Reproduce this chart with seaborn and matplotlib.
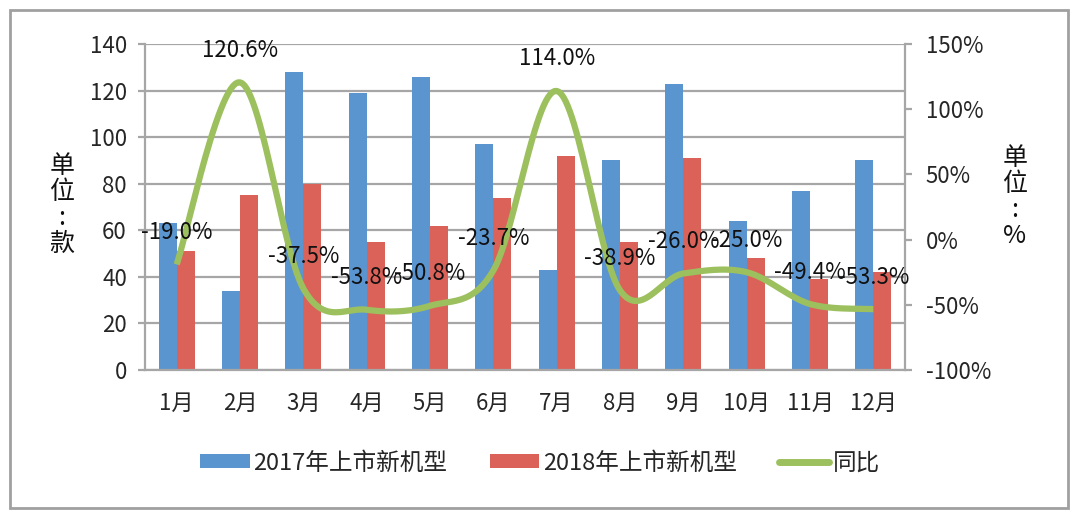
import numpy as np
import pandas as pd
import matplotlib
matplotlib.use("Agg")
import matplotlib.pyplot as plt
import seaborn as sns
from matplotlib.patches import Patch, Rectangle
from matplotlib.lines import Line2D

months = ["1月", "2月", "3月", "4月", "5月", "6月", "7月", "8月", "9月", "10月", "11月", "12月"]
models_2017 = [63, 34, 128, 119, 126, 97, 43, 90, 123, 64, 77, 90]
models_2018 = [51, 75, 80, 55, 62, 74, 92, 55, 91, 48, 39, 42]
yoy = [-19.0, 120.6, -37.5, -53.8, -50.8, -23.7, 114.0, -38.9, -26.0, -25.0, -49.4, -53.3]
yoy_labels = ["-19.0%", "120.6%", "-37.5%", "-53.8%", "-50.8%", "-23.7%",
              "114.0%", "-38.9%", "-26.0%", "-25.0%", "-49.4%", "-53.3%"]
series_names = ["2017年上市新机型", "2018年上市新机型", "同比"]

BLUE = "#5B95D0"
RED = "#DB6259"
GREEN = "#9DC05E"
GRID = "#A6A6A6"

sns.set_style("white")
plt.rcParams["font.family"] = ["Noto Sans CJK SC", "DejaVu Sans"]

df = pd.DataFrame({
    "month": months * 2,
    "count": models_2017 + models_2018,
    "series": [series_names[0]] * 12 + [series_names[1]] * 12,
})

fig = plt.figure(figsize=(10.8, 5.16), dpi=100)
ax = fig.add_axes([145 / 1080, 1 - 370 / 516, (905 - 145) / 1080, (370 - 44) / 516])

sns.barplot(data=df, x="month", y="count", hue="series", order=months,
            hue_order=series_names[:2], palette=[BLUE, RED], width=0.57,
            saturation=1, ax=ax, legend=False, linewidth=0)

ax.set_ylim(0, 140)
ax.set_xlim(-0.5, 11.5)
ax.set_yticks(range(0, 141, 20))
ax.set_xlabel("")
ax.set_ylabel("")
ax.yaxis.grid(True, color=GRID, linewidth=1.6)
ax.set_axisbelow(True)
for s in ["top", "right"]:
    ax.spines[s].set_visible(False)
for s in ["left", "bottom"]:
    ax.spines[s].set_color(GRID)
    ax.spines[s].set_linewidth(1.6)
ax.tick_params(axis="y", length=5, width=1.6, color=GRID, labelsize=16, pad=8)
ax.set_xticks(np.arange(-0.5, 12, 1), minor=True)
ax.tick_params(axis="x", which="major", length=0, labelsize=16, pad=16)
ax.tick_params(axis="x", which="minor", length=7, width=1.6, color=GRID)

ax2 = ax.twinx()
ax2.set_ylim(-100, 150)
ax2.set_yticks(range(-100, 151, 50))
ax2.set_yticklabels([f"{v}%" for v in range(-100, 151, 50)])
for s in ["top", "left", "bottom"]:
    ax2.spines[s].set_visible(False)
ax2.spines["right"].set_color(GRID)
ax2.spines["right"].set_linewidth(1.6)
ax2.tick_params(axis="y", length=5, width=1.6, color=GRID, labelsize=16, pad=10)

# smoothed line (Catmull-Rom Bezier, like spreadsheet smoothing)
xs = np.arange(len(yoy), dtype=float)
ys = np.array(yoy, dtype=float)
px = np.concatenate([[xs[0]], xs, [xs[-1]]])
py = np.concatenate([[ys[0]], ys, [ys[-1]]])
cx, cy = [], []
t = np.linspace(0, 1, 30)
for i in range(1, len(px) - 2):
    p0 = np.array([px[i], py[i]])
    p3 = np.array([px[i + 1], py[i + 1]])
    c1 = p0 + (np.array([px[i + 1], py[i + 1]]) - np.array([px[i - 1], py[i - 1]])) / 6
    c2 = p3 - (np.array([px[i + 2], py[i + 2]]) - np.array([px[i], py[i]])) / 6
    b = ((1 - t) ** 3)[:, None] * p0 + (3 * (1 - t) ** 2 * t)[:, None] * c1 + \
        (3 * (1 - t) * t ** 2)[:, None] * c2 + (t ** 3)[:, None] * p3
    cx.extend(b[:, 0])
    cy.extend(b[:, 1])
ax2.plot(cx, cy, color=GREEN, linewidth=4.5, solid_capstyle="butt", zorder=3)

for i, lab in enumerate(yoy_labels):
    ax2.annotate(lab, (i, yoy[i]), xytext=(0, 23), textcoords="offset points",
                 ha="center", va="center", fontsize=16, color="#111111", zorder=4)

# unit labels
fig.text(62 / 1080, 1 - 205 / 516, "单\n位\n:\n款", ha="center", va="center",
         fontsize=18, linespacing=1.0, color="#111111")
fig.text(1015 / 1080, 1 - 197 / 516, "单\n位\n:\n%", ha="center", va="center",
         fontsize=18, linespacing=1.0, color="#111111")

handles = [Patch(facecolor=BLUE, edgecolor="none"),
           Patch(facecolor=RED, edgecolor="none"),
           Line2D([0], [0], color=GREEN, linewidth=5)]
fig.legend(handles, series_names, loc="center", bbox_to_anchor=(0.5, 1 - 463 / 516),
           ncol=3, frameon=False, fontsize=17, handlelength=2.1, handleheight=0.55,
           handletextpad=0.15, columnspacing=1.8)

fig.add_artist(Rectangle((10 / 1080, 1 - 508 / 516), (1068 - 10) / 1080, (508 - 10) / 516,
                         transform=fig.transFigure, fill=False, edgecolor="#A0A0A0",
                         linewidth=2))

fig.savefig("out.png", dpi=100)
